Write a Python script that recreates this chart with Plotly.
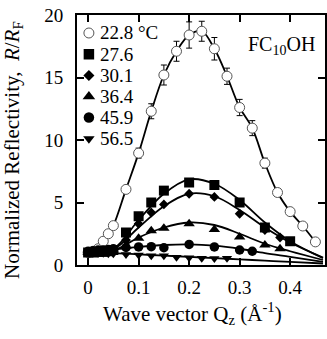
import plotly.graph_objects as go

# ---- data ----
names = ["22.8 °C", "27.6", "30.1", "36.4", "45.9", "56.5"]

x_228 = [0.0, 0.01, 0.02, 0.03, 0.04, 0.05, 0.075, 0.1, 0.125, 0.15, 0.175, 0.2, 0.225,
         0.25, 0.275, 0.3, 0.325, 0.35, 0.375, 0.4, 0.425, 0.45]
y_228 = [1.0, 1.1, 1.3, 1.9, 2.5, 3.15, 6.05, 8.95, 12.3, 15.2, 17.1, 18.4, 18.7,
         17.3, 15.1, 12.6, 10.95, 8.15, 5.8, 4.27, 3.12, 1.85]
e_228 = [0, 0, 0, 0, 0, 0, 0.25, 0.4, 0.6, 0.8, 0.8, 1.05, 0.8,
         0.9, 0.65, 0.65, 0.6, 0.4, 0.3, 0.25, 0.2, 0.15]

x_276 = [0.0, 0.01, 0.02, 0.03, 0.04, 0.05, 0.075, 0.1, 0.125, 0.15, 0.2, 0.25, 0.3, 0.35, 0.4]
y_276 = [1.0, 1.0, 1.05, 1.05, 1.1, 1.2, 2.6, 3.9, 5.0, 5.95, 6.6, 6.4, 5.0, 3.0, 1.9]

x_301 = [0.0, 0.01, 0.02, 0.03, 0.04, 0.05, 0.075, 0.1, 0.125, 0.15, 0.2, 0.25, 0.3, 0.35, 0.38]
y_301 = [1.0, 1.0, 1.0, 1.05, 1.1, 1.2, 2.0, 3.3, 4.2, 4.85, 5.7, 5.45, 4.1, 2.8, 2.2]

x_364 = [0.0, 0.01, 0.02, 0.03, 0.04, 0.05, 0.075, 0.1, 0.125, 0.15, 0.2, 0.25, 0.3, 0.35, 0.38]
y_364 = [1.0, 1.0, 1.0, 1.0, 1.05, 1.1, 1.5, 2.15, 2.75, 2.95, 3.3, 2.85, 2.25, 1.6, 1.3]

x_459 = [0.0, 0.01, 0.02, 0.03, 0.04, 0.05, 0.075, 0.1, 0.125, 0.15, 0.2, 0.25, 0.3, 0.325]
y_459 = [1.1, 1.15, 1.2, 1.2, 1.25, 1.3, 1.4, 1.45, 1.47, 1.38, 1.65, 1.45, 1.2, 1.1]

x_565 = [0.0, 0.01, 0.02, 0.03, 0.04, 0.05, 0.075, 0.1, 0.125, 0.15, 0.175, 0.2, 0.225, 0.25, 0.275]
y_565 = [1.0, 1.0, 0.95, 0.95, 0.9, 0.9, 0.85, 0.8, 0.75, 0.75, 0.62, 0.58, 0.55, 0.52, 0.55]

# fitted curves
x_fit = [0.0, 0.05, 0.1, 0.15, 0.2, 0.25, 0.3, 0.35, 0.4, 0.465]
fit_276 = [1.0, 1.3, 3.6, 5.7, 6.85, 6.5, 5.2, 3.4, 1.9, 0.55]
fit_301 = [1.0, 1.25, 3.0, 4.7, 5.7, 5.5, 4.4, 3.0, 1.8, 0.6]
fit_364 = [1.0, 1.15, 2.2, 3.0, 3.4, 3.2, 2.5, 1.7, 1.1, 0.4]
fit_459 = [1.15, 1.25, 1.45, 1.6, 1.65, 1.55, 1.3, 0.95, 0.65, 0.25]
fit_565 = [1.0, 0.95, 0.85, 0.75, 0.65, 0.55, 0.45, 0.35, 0.25, 0.12]

x_ticks = [0, 0.1, 0.2, 0.3, 0.4]
x_ticklabels = ["0", "0.1", "0.2", "0.3", "0.4"]
y_ticks = [0, 5, 10, 15, 20]

FONT = "Liberation Serif, Times New Roman, serif"

symbols = ["circle", "square", "diamond", "triangle-up", "circle", "triangle-down"]
data_sizes = [10, 10, 7.5, 10, 9.5, 9]
legend_sizes = [10, 10.5, 8.5, 11, 10.5, 10]
fills = ["white", "black", "black", "black", "black", "black"]

# legend layout (overlay axis units 0..1)
leg_marker_x = 0.048
leg_text_x = 0.085
leg_rows = [0.928, 0.843, 0.758, 0.674, 0.59, 0.505]

fig = go.Figure()

# fit lines
for fy in [fit_276, fit_301, fit_364, fit_459, fit_565]:
    fig.add_trace(go.Scatter(x=x_fit, y=fy, mode="lines", showlegend=False,
                             line=dict(color="black", width=1.8, shape="spline", smoothing=1),
                             hoverinfo="skip"))

# 22.8 curve through points
fig.add_trace(go.Scatter(x=x_228, y=y_228, mode="lines", showlegend=False,
                         line=dict(color="black", width=1.8, shape="spline", smoothing=1),
                         hoverinfo="skip"))
fig.add_trace(go.Scatter(x=x_228, y=y_228, mode="markers", name=names[0], showlegend=False,
                         marker=dict(symbol="circle", size=data_sizes[0], color="white",
                                     line=dict(color="#555", width=1)),
                         error_y=dict(type="data", array=e_228, color="black",
                                      thickness=1, width=3)))

series = [(x_276, y_276), (x_301, y_301), (x_364, y_364), (x_459, y_459), (x_565, y_565)]
for i, (xs, ys) in enumerate(series, start=1):
    fig.add_trace(go.Scatter(x=xs, y=ys, mode="markers", name=names[i], showlegend=False,
                             marker=dict(symbol=symbols[i], size=data_sizes[i], color="black",
                                         line=dict(width=0))))

# legend markers on an overlay axis, and legend texts
for i in range(len(names)):
    fig.add_trace(go.Scatter(x=[leg_marker_x], y=[leg_rows[i]], mode="markers",
                             xaxis="x2", yaxis="y2", showlegend=False, hoverinfo="skip",
                             marker=dict(symbol=symbols[i], size=legend_sizes[i], color=fills[i],
                                         line=dict(color="#555" if i == 0 else "black",
                                                   width=1 if i == 0 else 0))))
    fig.add_annotation(x=leg_text_x, y=leg_rows[i], xref="paper", yref="paper",
                       text=names[i], showarrow=False, xanchor="left", yanchor="middle",
                       font=dict(family=FONT, size=19, color="black"))

fig.add_annotation(x=0.823, y=0.88, xref="paper", yref="paper",
                   text="FC<sub>10</sub>OH", showarrow=False,
                   xanchor="center", yanchor="middle",
                   font=dict(family=FONT, size=20, color="black"))

# axis titles
fig.add_annotation(x=0.464, y=-0.192, xref="paper", yref="paper",
                   text="Wave vector Q<sub>z</sub> (Å<sup>-1</sup>)", showarrow=False,
                   xanchor="center", yanchor="middle",
                   font=dict(family=FONT, size=21, color="black"))
fig.add_annotation(x=-0.258, y=0.46, xref="paper", yref="paper",
                   text="Normalized Reflectivity,  <i>R</i>/<i>R</i><sub>F</sub>",
                   showarrow=False, textangle=-90,
                   xanchor="center", yanchor="middle",
                   font=dict(family=FONT, size=21, color="black"))

fig.update_layout(
    width=327, height=339,
    margin=dict(l=77, r=2, t=15, b=74),
    paper_bgcolor="white", plot_bgcolor="white",
    font=dict(family=FONT, size=19, color="black"),
    showlegend=False,
    xaxis=dict(range=[-0.022, 0.469], tickvals=x_ticks, ticktext=x_ticklabels,
               showgrid=False, zeroline=False, showline=True, linecolor="black",
               linewidth=2, mirror="ticks", ticks="inside", ticklen=7,
               tickcolor="black", tickwidth=1.5, ticklabelstandoff=4,
               ticklabeloverflow="allow",
               tickfont=dict(family=FONT, size=19), automargin=False),
    yaxis=dict(range=[0, 20], tickvals=y_ticks,
               showgrid=False, zeroline=False, showline=True, linecolor="black",
               linewidth=2, mirror="ticks", ticks="inside", ticklen=7,
               tickcolor="black", tickwidth=1.5, ticklabelstandoff=8,
               ticklabeloverflow="allow",
               tickfont=dict(family=FONT, size=19), automargin=False),
    xaxis2=dict(overlaying="x", range=[0, 1], visible=False, anchor="y2"),
    yaxis2=dict(overlaying="y", range=[0, 1], visible=False, anchor="x2"),
)

# remove the page's default body margin so the figure sits at the window's corner
fig.write_html("out.html", config={"displayModeBar": False},
               post_script="document.body.style.margin='0';")
